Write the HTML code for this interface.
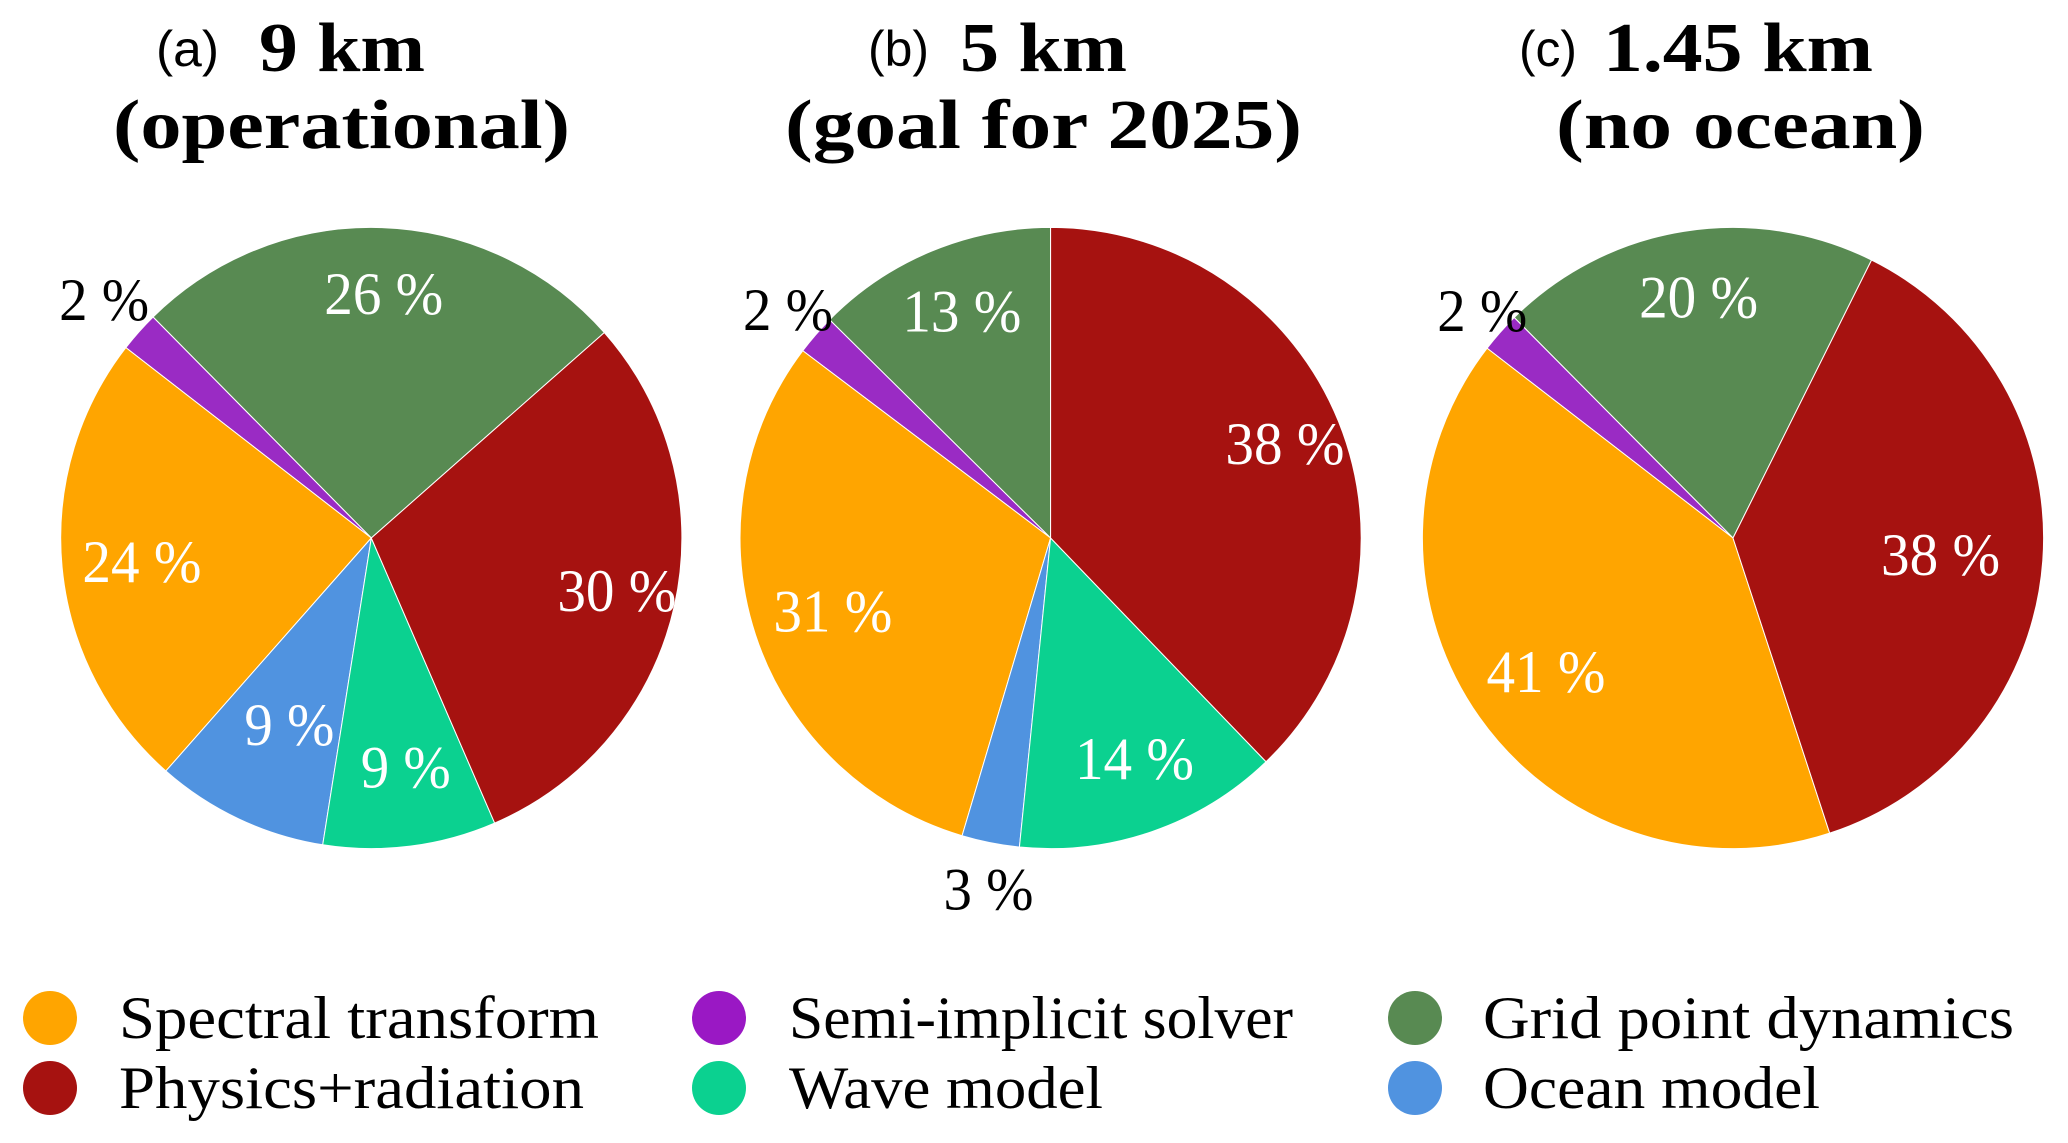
<!DOCTYPE html>
<html lang="en">
<head>
<meta charset="utf-8">
<title>Pie charts of model cost by component</title>
<style>
html,body{margin:0;padding:0;background:#fff;width:2068px;height:1143px;overflow:hidden}
svg{display:block}
text{font-family:"Liberation Serif",serif;fill:#000}
.panel-tag{font-family:"Liberation Sans",sans-serif;font-size:50px}
.title{font-weight:bold;font-size:70px}
.legend-text{font-size:60px}
.pct{font-size:60px;text-anchor:middle}
</style>
</head>
<body>
<svg id="chart" xmlns="http://www.w3.org/2000/svg" width="2068" height="1143" viewBox="0 0 2068 1143">
  <rect width="2068" height="1143" fill="#fff"/>

  <g>
    <text class="panel-tag" x="156" y="66" textLength="63" lengthAdjust="spacingAndGlyphs">(a)</text>
    <text class="title" x="259" y="71" textLength="166" lengthAdjust="spacingAndGlyphs">9 km</text>
    <text class="title" x="113" y="148" textLength="457" lengthAdjust="spacingAndGlyphs">(operational)</text>
  </g>
  <g>
    <text class="panel-tag" x="868" y="66" textLength="61" lengthAdjust="spacingAndGlyphs">(b)</text>
    <text class="title" x="960" y="71" textLength="167" lengthAdjust="spacingAndGlyphs">5 km</text>
    <text class="title" x="785" y="148" textLength="517" lengthAdjust="spacingAndGlyphs">(goal for 2025)</text>
  </g>
  <g>
    <text class="panel-tag" x="1519" y="66" textLength="58" lengthAdjust="spacingAndGlyphs">(c)</text>
    <text class="title" x="1603" y="71" textLength="270" lengthAdjust="spacingAndGlyphs">1.45 km</text>
    <text class="title" x="1556" y="148" textLength="369" lengthAdjust="spacingAndGlyphs">(no ocean)</text>
  </g>

  <g id="pies"></g>

  <g>
    <g>
      <circle cx="50" cy="1018" r="27" fill="#FFA500"/>
      <text class="legend-text" x="119" y="1038" textLength="480" lengthAdjust="spacingAndGlyphs">Spectral transform</text>
    </g>
    <g>
      <circle cx="50" cy="1088" r="27" fill="#A61210"/>
      <text class="legend-text" x="119" y="1108" textLength="465" lengthAdjust="spacingAndGlyphs">Physics+radiation</text>
    </g>
    <g>
      <circle cx="719" cy="1018" r="27" fill="#9A18C4"/>
      <text class="legend-text" x="789" y="1038" textLength="504" lengthAdjust="spacingAndGlyphs">Semi-implicit solver</text>
    </g>
    <g>
      <circle cx="719" cy="1088" r="27" fill="#0BD190"/>
      <text class="legend-text" x="789" y="1108" textLength="314" lengthAdjust="spacingAndGlyphs">Wave model</text>
    </g>
    <g>
      <circle cx="1415" cy="1018" r="27" fill="#588A52"/>
      <text class="legend-text" x="1483" y="1038" textLength="531" lengthAdjust="spacingAndGlyphs">Grid point dynamics</text>
    </g>
    <g>
      <circle cx="1415" cy="1088" r="27" fill="#5093E0"/>
      <text class="legend-text" x="1483" y="1108" textLength="337" lengthAdjust="spacingAndGlyphs">Ocean model</text>
    </g>
  </g>
</svg>

<script>
// Slice order runs counter-clockwise from each pie's start angle.
const categoriesA = ["grid-point-dynamics", "semi-implicit-solver", "spectral-transform", "ocean-model", "wave-model", "physics-radiation"];
const valuesA = [25.9, 2.1, 24, 9, 9, 30];
const categoriesB = ["grid-point-dynamics", "semi-implicit-solver", "spectral-transform", "ocean-model", "wave-model", "physics-radiation"];
const valuesB = [12.6, 2.1, 30.7, 3, 13.8, 37.8];
const categoriesC = ["grid-point-dynamics", "semi-implicit-solver", "spectral-transform", "physics-radiation"];
const valuesC = [19.8, 2.1, 40.5, 37.6];

const sliceColor = {
  "grid-point-dynamics": "#588A52",
  "semi-implicit-solver": "#9A2BC4",
  "spectral-transform": "#FFA500",
  "ocean-model": "#5093E0",
  "wave-model": "#0BD190",
  "physics-radiation": "#A61210"
};

const panels = [
  {id: "a", cats: categoriesA, vals: valuesA, start: 41.4, cx: 371.3,
   dist: [0.79, 1.15, 0.745, 0.665, 0.757, 0.81], outside: [false, true, false, false, false, false],
   nudgeX: [4, 0, 1, 6, 5, 0], nudgeY: [0, -2, 1, -1, -5, -3]},
  {id: "b", cats: categoriesB, vals: valuesB, start: 90, cx: 1050.6,
   dist: [0.783, 1.122, 0.748, 1.167, 0.767, 0.81], outside: [false, true, false, true, false, false],
   nudgeX: [5, 1, 3, 8, 6, 1], nudgeY: [-3, -1, 0, -5, -5, -1]},
  {id: "c", cats: categoriesC, vals: valuesC, start: 63.5, cx: 1733,
   dist: [0.778, 1.09, 0.749, 0.67], outside: [false, true, false, false],
   nudgeX: [4, 3, 3, 0], nudgeY: [-3, -4, -1, 1]}
];

const cy = 538, rx = 310.6, ry = 310.6;
const SVGNS = "http://www.w3.org/2000/svg";
const root = document.getElementById("pies");

function px(cx, deg, k) { return cx + rx * k * Math.cos(deg * Math.PI / 180); }
function py(deg, k) { return cy - ry * k * Math.sin(deg * Math.PI / 180); }

panels.forEach(function (p) {
  const g = document.createElementNS(SVGNS, "g");
  
  
  root.appendChild(g);

  const total = p.vals.reduce(function (a, b) { return a + b; }, 0);
  let angle = p.start;
  const labelLayer = [];

  p.vals.forEach(function (v, i) {
    const sweep = v / total * 360;
    const a0 = angle, a1 = angle + sweep, mid = angle + sweep / 2;
    const large = sweep > 180 ? 1 : 0;
    const path = document.createElementNS(SVGNS, "path");
    path.setAttribute("d",
      "M" + p.cx + " " + cy +
      "L" + px(p.cx, a0, 1).toFixed(2) + " " + py(a0, 1).toFixed(2) +
      "A" + rx + " " + ry + " 0 " + large + " 0 " + px(p.cx, a1, 1).toFixed(2) + " " + py(a1, 1).toFixed(2) + "Z");
    path.setAttribute("fill", sliceColor[p.cats[i]]);
    path.setAttribute("stroke", "#fff");
    path.setAttribute("stroke-width", "1");
    path.setAttribute("stroke-linejoin", "round");
    
    
    g.appendChild(path);

    const str = Math.round(v) + " %";
    const t = document.createElementNS(SVGNS, "text");
    t.textContent = str;
    t.setAttribute("class", "pct");
    t.setAttribute("x", (px(p.cx, mid, p.dist[i]) + p.nudgeX[i]).toFixed(2));
    t.setAttribute("y", (py(mid, p.dist[i]) + 21 + p.nudgeY[i]).toFixed(2));
    t.setAttribute("textLength", str.length > 3 ? "119" : "90");
    t.setAttribute("lengthAdjust", "spacingAndGlyphs");
    t.style.fill = p.outside[i] ? "#000" : "#fff";
    
    
    labelLayer.push(t);

    angle = a1;
  });
  labelLayer.forEach(function (t) { g.appendChild(t); });
});
</script>
</body>
</html>
